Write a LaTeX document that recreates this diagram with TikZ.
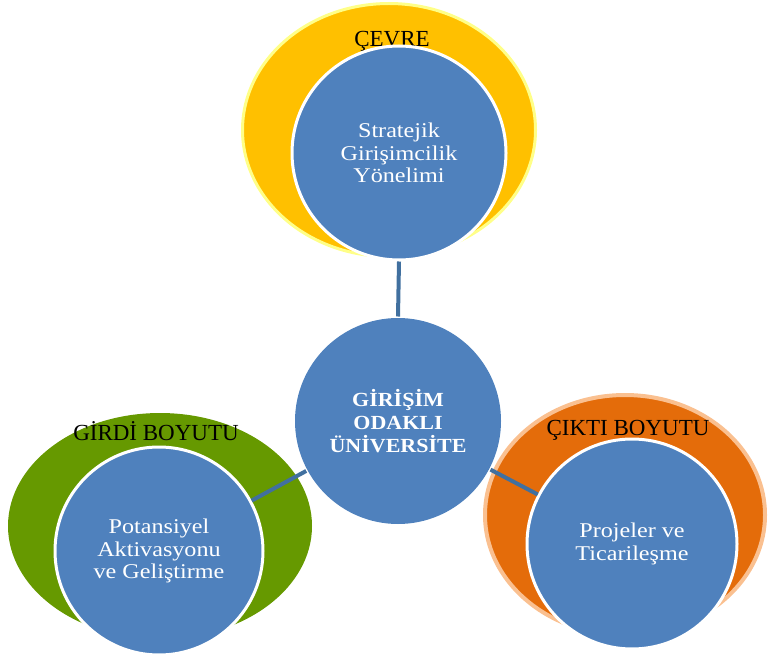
\documentclass[tikz,border=0pt]{standalone}
\usepackage{fontspec}
\setmainfont{Liberation Serif}
\newfontfamily\widefont[FakeStretch=1.15]{Liberation Serif}
\newfontfamily\widebold[FakeStretch=1.1]{Liberation Serif Bold}
\usetikzlibrary{shapes.geometric}
\definecolor{cblue}{HTML}{4F81BD}
\definecolor{cyellow}{HTML}{FFC000}
\definecolor{cyellowb}{HTML}{FFFF88}
\definecolor{cgreen}{HTML}{669900}
\definecolor{corange}{HTML}{E46C0A}
\definecolor{corangeb}{HTML}{FAC090}
\definecolor{clink}{HTML}{41709F}
\begin{document}
\begin{tikzpicture}[x=1pt,y=-1pt,
  outer/.style={ellipse, inner sep=0pt},
  inner/.style={circle, fill=cblue, draw=white, line width=3pt, inner sep=0pt, text=white, align=center, font=\widefont\fontsize{21}{22.5}\selectfont},
  lab/.style={anchor=base, text=black, inner sep=0pt, font=\fontsize{23}{26}\selectfont},
  link/.style={draw=clink, line width=4pt}]
\useasboundingbox (0,0) rectangle (768,655);
% outer ellipses
\node[outer, fill=cyellow, draw=cyellowb, line width=3pt, minimum width=293pt, minimum height=253pt] (oc) at (389,130) {};
\node[outer, fill=cgreen, minimum width=304pt, minimum height=226pt] (ol) at (160,526) {};
\node[outer, fill=corange, draw=corangeb, line width=4pt, minimum width=280pt, minimum height=240pt] (or) at (625,515) {};
% labels
\node[lab] (lc) at (392,47) {ÇEVRE};
\node[lab] (ll) at (156,440) {GİRDİ BOYUTU};
\node[lab] (lr) at (628,435) {ÇIKTI BOYUTU};
% circles
\node[inner, minimum size=214pt] (t) at (399,153) {Stratejik\\Girişimcilik\\Yönelimi};
\node[inner, draw=none, minimum size=206pt, font=\widebold\fontsize{20}{23}\selectfont] (c) at (398,421) {GİRİŞİM\\ODAKLI\\ÜNİVERSİTE};
\node[inner, minimum size=208pt] (l) at (159,551) {Potansiyel\\Aktivasyonu\\ve Geliştirme};
\node[inner, minimum size=210pt] (r) at (632,544) {Projeler ve\\Ticarileşme};
% connectors
\draw[link] (t.south) -- (c.north);
\draw[link] (c) -- (l);
\draw[link] (c) -- (r);
\end{tikzpicture}
\end{document}
